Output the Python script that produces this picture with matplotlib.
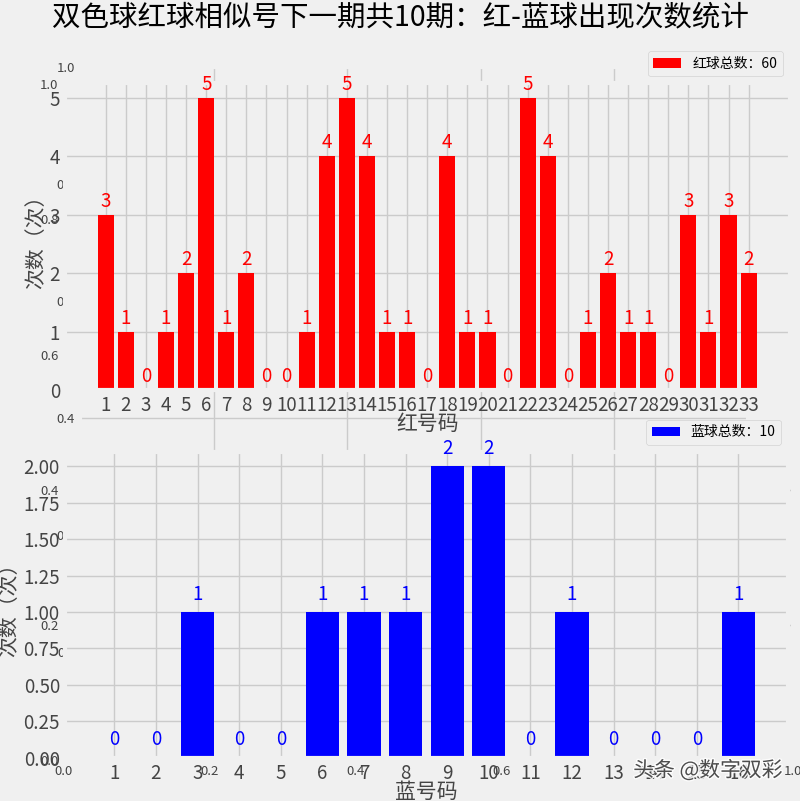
import matplotlib
matplotlib.use('Agg')
import matplotlib.pyplot as plt
import matplotlib.patheffects as pe
from matplotlib.ticker import MultipleLocator, FormatStrFormatter

red_nums = list(range(1, 34))
red_counts = [3, 1, 0, 1, 2, 5, 1, 2, 0, 0,
              1, 4, 5, 4, 1, 1, 0, 4, 1, 1,
              0, 5, 4, 0, 1, 2, 1, 1, 0, 3, 1, 3, 2]
blue_nums = list(range(1, 17))
blue_counts = [0, 0, 1, 0, 0, 1, 1, 1, 2, 2, 0, 1, 0, 0, 0, 1]

title = '双色球红球相似号下一期共10期：红-蓝球出现次数统计'
red_label = '红球总数：%d' % sum(red_counts)
blue_label = '蓝球总数：%d' % sum(blue_counts)

plt.style.use('fivethirtyeight')
plt.rcParams['font.family'] = ['Noto Sans CJK SC', 'DejaVu Sans']
plt.rcParams['font.size'] = 13.5
plt.rcParams['xtick.color'] = '#444444'
plt.rcParams['ytick.color'] = '#444444'
plt.rcParams['axes.labelcolor'] = '#444444'

fig = plt.figure(figsize=(8, 8.01), dpi=100)

# leftover empty axes behind the real charts
ax_b = fig.add_axes([0.079, 0.051, 0.9125, 0.844])
ax_b.tick_params(labelsize=9.5)
ax_a = fig.add_axes([0.1, 0.186, 0.835, 0.730])
ax_a.tick_params(labelsize=9.5)

ax1 = fig.add_axes([0.081, 0.513, 0.906, 0.383])
ax1.bar(red_nums, red_counts, color='red', width=0.8, label=red_label)
for n, c in zip(red_nums, red_counts):
    ax1.text(n, c + 0.05, str(c), ha='center', va='bottom', color='red', fontsize=13.5)
ax1.set_xticks(red_nums)
ax1.set_xlabel('红号码', fontsize=15, labelpad=-2)
ax1.set_ylabel('次数（次）', fontsize=15, labelpad=2)
ax1.legend(loc='lower right', bbox_to_anchor=(1, 1), fontsize=10)

ax2 = fig.add_axes([0.081, 0.054, 0.904, 0.382])
ax2.bar(blue_nums, blue_counts, color='blue', width=0.8, label=blue_label)
for n, c in zip(blue_nums, blue_counts):
    ax2.text(n, c + 0.05, str(c), ha='center', va='bottom', color='blue', fontsize=13.5)
ax2.set_xticks(blue_nums)
ax2.yaxis.set_major_locator(MultipleLocator(0.25))
ax2.yaxis.set_major_formatter(FormatStrFormatter('%.2f'))
ax2.set_xlabel('蓝号码', fontsize=15, labelpad=-2)
ax2.set_ylabel('次数（次）', fontsize=15, labelpad=2)
ax2.legend(loc='lower right', bbox_to_anchor=(1, 1), fontsize=10)

fig.suptitle(title, fontsize=20.5, y=0.997)

fig.text(0.885, 0.038, '头条 @数字双彩', ha='center', va='center', fontsize=15,
         color='#333333', alpha=0.85,
         path_effects=[pe.withStroke(linewidth=2, foreground='white')])

fig.savefig('out.png', dpi=100)
